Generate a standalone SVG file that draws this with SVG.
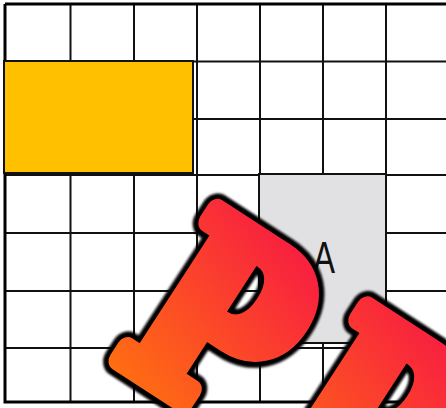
<svg xmlns="http://www.w3.org/2000/svg" width="446" height="408" viewBox="0 0 446 408">
<defs>
<style>
.g{stroke:#111;stroke-width:2;fill:none}
.b{stroke:#000;stroke-width:3;fill:none}
.p{font-family:"DejaVu Serif Condensed","DejaVu Serif",serif;font-stretch:condensed;font-weight:bold;font-size:246px;stroke-linejoin:round}
.o{stroke:#000;stroke-width:34;fill:#000}
.f{fill:url(#pg);stroke:url(#pg);stroke-width:22}
</style>
<linearGradient id="pg" gradientUnits="userSpaceOnUse" x1="60" y1="-200" x2="0" y2="10">
<stop offset="0" stop-color="#F8223E"/>
<stop offset="1" stop-color="#FF6E12"/>
</linearGradient>
<filter id="bl" x="-20%" y="-20%" width="140%" height="140%"><feGaussianBlur stdDeviation="1.3"/></filter>
</defs>
<rect width="446" height="408" fill="#fff"/>
<g id="grid">
<path class="g" d="M70.5 4V402M134 4V402M197 4V402M260 4V402M323 4V402M386 4V402M5 61.5H446M5 119H446M5 175H446M5 233H446M5 291H446M5 348H446"/>
<path class="b" d="M5 4H446M5 4V402H446"/>
</g>
<g id="orange"><rect x="4" y="61" width="189" height="112" fill="#FFC000" stroke="#111" stroke-width="2"/></g>
<g id="nodeA">
<rect x="259" y="174" width="127" height="169" fill="#E1E1E3" stroke="#111" stroke-width="2"/>
<text x="324" y="273" font-family="Liberation Sans, Arial, sans-serif" font-size="45" text-anchor="middle" textLength="22" lengthAdjust="spacingAndGlyphs" fill="#111">A</text>
</g>
<g id="letters" transform="translate(111,355) rotate(33)">
<g filter="url(#bl)">
<text class="p o" transform="scale(0.88,1)">P</text>
<text class="p o" transform="translate(179,0) scale(0.88,1)">P</text>
</g>
<text class="p f" transform="scale(0.88,1)">P</text>
<text class="p f" transform="translate(179,0) scale(0.88,1)">P</text>
</g>
</svg>
